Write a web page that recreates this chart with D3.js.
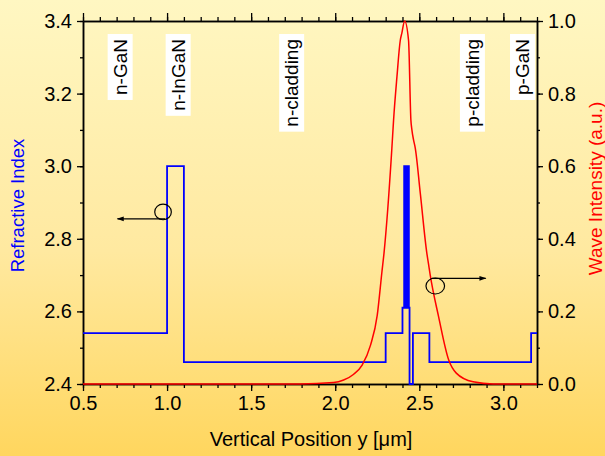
<!DOCTYPE html>
<html>
<head>
<meta charset="utf-8">
<script src="https://cdn.jsdelivr.net/npm/d3@7"></script>
<style>
  html, body { margin: 0; padding: 0; }
  svg { display: block; font-family: "Liberation Sans", Arial, sans-serif; }
</style>
</head>
<body>
<svg id="chart" width="605" height="456"></svg>
<script>
// ---------------- data ----------------
// refractive index profile: step starts (x in µm) and level from that point
const indexX = [0.5, 1.0, 1.1, 2.3, 2.40, 2.41, 2.414, 2.418, 2.422, 2.426, 2.430, 2.434, 2.438, 2.442, 2.462, 2.56, 3.165, 3.2];
const indexN = [2.54, 3.0, 2.46, 2.54, 2.61, 3.0, 2.61, 3.0, 2.61, 3.0, 2.61, 3.0, 2.61, 2.40, 2.54, 2.46, 2.54, 2.54];

// wave intensity (a.u.)
const waveX = [0.5, 1.79, 1.99, 2.05, 2.11, 2.16, 2.21, 2.25, 2.278, 2.29, 2.337, 2.347, 2.367, 2.387, 2.396, 2.413, 2.436, 2.45, 2.456, 2.466, 2.476, 2.506, 2.545, 2.555, 2.565, 2.615, 2.675, 2.72, 2.82, 2.94, 3.2];
const waveI = [0, 0, 0.004, 0.011, 0.027, 0.052, 0.107, 0.19, 0.31, 0.36, 0.65, 0.727, 0.846, 0.947, 0.966, 1.0, 0.947, 0.727, 0.70, 0.672, 0.65, 0.525, 0.36, 0.33, 0.30, 0.185, 0.066, 0.03, 0.006, 0, 0];

const xTicks = [0.5, 1.0, 1.5, 2.0, 2.5, 3.0];
const yLeftTicks = [2.4, 2.6, 2.8, 3.0, 3.2, 3.4];
const yRightTicks = [0.0, 0.2, 0.4, 0.6, 0.8, 1.0];

const layerNames = ["n-GaN", "n-InGaN", "n-cladding", "p-cladding", "p-GaN"];
const layerCenters = [0.72, 1.065, 1.74, 2.815, 3.113];

// ---------------- layout ----------------
const svg = d3.select("#chart");
const W = 605, H = 456;
const L = 83, R = 537, T = 21, B = 384;

const x = d3.scaleLinear().domain([0.5, 3.2]).range([L, R]);
const yL = d3.scaleLinear().domain([2.4, 3.4]).range([B, T]);
const yR = d3.scaleLinear().domain([0, 1]).range([B, T]);

// background gradient
const defs = svg.append("defs");
const grad = defs.append("linearGradient").attr("id", "bg").attr("x1", 0).attr("y1", 0).attr("x2", 0).attr("y2", 1);
grad.append("stop").attr("offset", "0%").attr("stop-color", "#FFF7C2");
grad.append("stop").attr("offset", "55%").attr("stop-color", "#FFE9A0");
grad.append("stop").attr("offset", "100%").attr("stop-color", "#FFD65E");
svg.append("rect").attr("width", W).attr("height", H).attr("fill", "url(#bg)");

const marker = defs.append("marker").attr("id", "arrow")
  .attr("viewBox", "0 0 10 10").attr("refX", 9).attr("refY", 5)
  .attr("markerWidth", 9).attr("markerHeight", 7).attr("markerUnits", "userSpaceOnUse")
  .attr("orient", "auto");
marker.append("path").attr("d", "M0,1.5 L10,5 L0,8.5 Z").attr("fill", "#000");

// ---------------- axes ----------------
const tickFont = 20;
const minorX = d3.range(5, 33).map(d => d / 10);
const minorYL = d3.range(24, 35).map(d => d / 10);
const minorYR = d3.range(0, 11).map(d => d / 10);

function styleAxis(g) {
  g.selectAll(".domain").attr("stroke", "#000").attr("stroke-width", 1.5);
  g.selectAll(".tick line").attr("stroke", "#000").attr("stroke-width", 1.3);
  g.selectAll(".tick text").attr("fill", "#000").style("font-size", tickFont + "px")
    .style("font-family", "'Liberation Sans', Arial, sans-serif");
}

// bottom
svg.append("g").attr("transform", `translate(0,${B})`)
  .call(d3.axisBottom(x).tickValues(minorX).tickSize(4).tickFormat("").tickSizeOuter(0)).call(styleAxis);
svg.append("g").attr("transform", `translate(0,${B})`)
  .call(d3.axisBottom(x).tickValues(xTicks).tickSize(7).tickPadding(5).tickFormat(d3.format(".1f")).tickSizeOuter(0)).call(styleAxis);
// top
svg.append("g").attr("transform", `translate(0,${T})`)
  .call(d3.axisTop(x).tickValues(minorX).tickSize(4).tickFormat("").tickSizeOuter(0)).call(styleAxis);
svg.append("g").attr("transform", `translate(0,${T})`)
  .call(d3.axisTop(x).tickValues(xTicks).tickSize(8).tickFormat("").tickSizeOuter(0)).call(styleAxis);
// left
svg.append("g").attr("transform", `translate(${L},0)`)
  .call(d3.axisLeft(yL).tickValues(minorYL).tickSize(3).tickFormat("").tickSizeOuter(0)).call(styleAxis);
svg.append("g").attr("transform", `translate(${L},0)`)
  .call(d3.axisLeft(yL).tickValues(yLeftTicks).tickSize(6).tickPadding(5).tickFormat(d3.format(".1f")).tickSizeOuter(0)).call(styleAxis);
// right
svg.append("g").attr("transform", `translate(${R},0)`)
  .call(d3.axisRight(yR).tickValues(minorYR).tickSize(3).tickFormat("").tickSizeOuter(0)).call(styleAxis);
svg.append("g").attr("transform", `translate(${R},0)`)
  .call(d3.axisRight(yR).tickValues(yRightTicks).tickSize(6).tickPadding(5).tickFormat(d3.format(".1f")).tickSizeOuter(0)).call(styleAxis);

// axis titles
svg.append("text").attr("transform", `translate(24,${(T + B) / 2 + 3}) rotate(-90)`)
  .attr("text-anchor", "middle").attr("fill", "#0000FF").style("font-size", "18.5px")
  .text("Refractive Index");
svg.append("text").attr("transform", `translate(602,${(T + B) / 2 - 14}) rotate(-90)`)
  .attr("text-anchor", "middle").attr("fill", "#FF0000").style("font-size", "19px")
  .text("Wave Intensity (a.u.)");
const xt = svg.append("text").attr("x", (L + R) / 2 + 1).attr("y", 446)
  .attr("text-anchor", "middle").attr("fill", "#000").style("font-size", "20px");
xt.append("tspan").text("Vertical Position y [");
xt.append("tspan").text("\u03BC");
xt.append("tspan").text("m]");

// ---------------- layer labels ----------------
layerNames.forEach((name, i) => {
  const cx = x(layerCenters[i]);
  const g = svg.append("g");
  const t = g.append("text")
    .attr("transform", `translate(${cx},39) rotate(-90)`)
    .attr("text-anchor", "end").attr("dy", "0.35em")
    .attr("fill", "#000").style("font-size", "19px").text(name);
  const bb = t.node().getBBox(); // local rotated coords
  const padL = 5;
  g.insert("rect", "text")
    .attr("transform", `translate(${cx},39) rotate(-90)`)
    .attr("x", bb.x - padL).attr("y", bb.y - 2)
    .attr("width", bb.width + 2 * padL).attr("height", bb.height + 4)
    .attr("fill", "#FFFFFF");
});

// ---------------- series ----------------
const idxData = indexX.map((d, i) => [d, indexN[i]]);
svg.append("path").datum(idxData)
  .attr("fill", "none").attr("stroke", "#0000FF").attr("stroke-width", 1.8)
  .attr("d", d3.line().x(d => x(d[0])).y(d => yL(d[1])).curve(d3.curveStepAfter));

const waveData = waveX.map((d, i) => [d, waveI[i]]);
svg.append("path").datum(waveData)
  .attr("fill", "none").attr("stroke", "#FF0000").attr("stroke-width", 1.5)
  .attr("d", d3.line().x(d => x(d[0])).y(d => yR(d[1])).curve(d3.curveMonotoneX));

// ---------------- annotations (arrows) ----------------
svg.append("ellipse").attr("cx", x(0.976)).attr("cy", yL(2.874)).attr("rx", 8.3).attr("ry", 7.8)
  .attr("fill", "none").attr("stroke", "#000").attr("stroke-width", 1.2);
svg.append("line").attr("x1", x(0.988)).attr("y1", yL(2.855)).attr("x2", x(0.705)).attr("y2", yL(2.855))
  .attr("stroke", "#000").attr("stroke-width", 1.2).attr("marker-end", "url(#arrow)");

svg.append("ellipse").attr("cx", x(2.595)).attr("cy", yR(0.27)).attr("rx", 9.3).attr("ry", 8)
  .attr("fill", "none").attr("stroke", "#000").attr("stroke-width", 1.2);
svg.append("line").attr("x1", x(2.575)).attr("y1", yR(0.291)).attr("x2", x(2.895)).attr("y2", yR(0.291))
  .attr("stroke", "#000").attr("stroke-width", 1.2).attr("marker-end", "url(#arrow)");
</script>
</body>
</html>
